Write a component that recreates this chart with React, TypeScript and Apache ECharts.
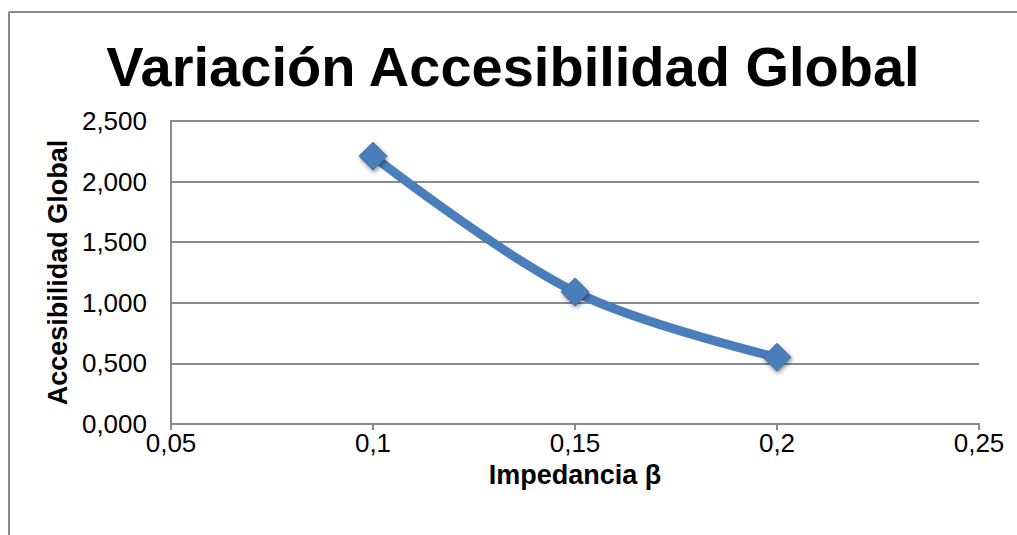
import React, { useEffect, useRef } from "react";
import * as echarts from "echarts";

const chartTitle = "Variación Accesibilidad Global";
const xAxisName = "Impedancia β";
const yAxisName = "Accesibilidad Global";
const impedance = [0.1, 0.15, 0.2];
const accessibility = [2.21, 1.09, 0.55];

const fmtComma = (v: number, digits?: number) => {
  const s = digits !== undefined ? v.toFixed(digits) : String(Math.round(v * 1000) / 1000);
  return s.replace(".", ",");
};

export default function App() {
  const ref = useRef<HTMLDivElement>(null);
  useEffect(() => {
    if (!ref.current) return;
    const chart = echarts.init(ref.current, undefined, { renderer: "svg" });
    const font = "'Liberation Sans', Arial, sans-serif";
    chart.setOption({
      animation: false,
      backgroundColor: "#ffffff",
      title: {
        text: chartTitle,
        left: 508,
        top: 33,
        textAlign: "center",
        textStyle: { fontFamily: font, fontSize: 56, fontWeight: "bold", color: "#000" },
      },
      graphic: [
        { type: "line", shape: { x1: 9, y1: 12, x2: 1017, y2: 12 }, style: { stroke: "#8a8a8a", lineWidth: 2 } },
        { type: "line", shape: { x1: 9, y1: 12, x2: 9, y2: 535 }, style: { stroke: "#8a8a8a", lineWidth: 2 } },
      ],
      grid: { left: 171, right: 38, top: 121, bottom: 111 },
      xAxis: {
        type: "value",
        min: 0.05,
        max: 0.25,
        interval: 0.05,
        name: xAxisName,
        nameLocation: "middle",
        nameMoveOverlap: false,
        nameGap: 37,
        nameTextStyle: { fontFamily: font, fontSize: 27, fontWeight: "bold", color: "#000" },
        axisLine: { show: true, lineStyle: { color: "#8a8a8a", width: 2 } },
        axisTick: { show: true, length: 6, lineStyle: { color: "#8a8a8a", width: 2 } },
        axisLabel: {
          fontFamily: font,
          fontSize: 26,
          color: "#000",
          margin: 6,
          formatter: (v: number) => fmtComma(v),
        },
        splitLine: { show: false },
      },
      yAxis: {
        type: "value",
        min: 0,
        max: 2.5,
        interval: 0.5,
        name: yAxisName,
        nameLocation: "middle",
        nameRotate: 90,
        nameGap: 94,
        nameTextStyle: { fontFamily: font, fontSize: 27, fontWeight: "bold", color: "#000" },
        axisLine: { show: true, lineStyle: { color: "#8a8a8a", width: 2 } },
        axisTick: { show: false },
        axisLabel: {
          fontFamily: font,
          fontSize: 26,
          color: "#000",
          margin: 24,
          formatter: (v: number) => fmtComma(v, 3),
        },
        splitLine: { show: true, lineStyle: { color: "#8a8a8a", width: 2 } },
      },
      series: [
        {
          type: "line",
          data: impedance.map((x, i) => [x, accessibility[i]]),
          smooth: 0.35,
          symbol: "diamond",
          symbolSize: 28,
          lineStyle: { color: "#4a7ebb", width: 9 },
          itemStyle: {
            color: "#4a7ebb",
            borderColor: "#3f6ea6",
            borderWidth: 1,
            shadowColor: "rgba(0,0,0,0.45)",
            shadowBlur: 4,
            shadowOffsetX: 1,
            shadowOffsetY: 2,
          },
        },
      ],
    });
    return () => chart.dispose();
  }, []);
  return (
    <div
      ref={ref}
      style={{ position: "absolute", left: 0, top: 0, width: 1017, height: 535, background: "#fff" }}
    />
  );
}
